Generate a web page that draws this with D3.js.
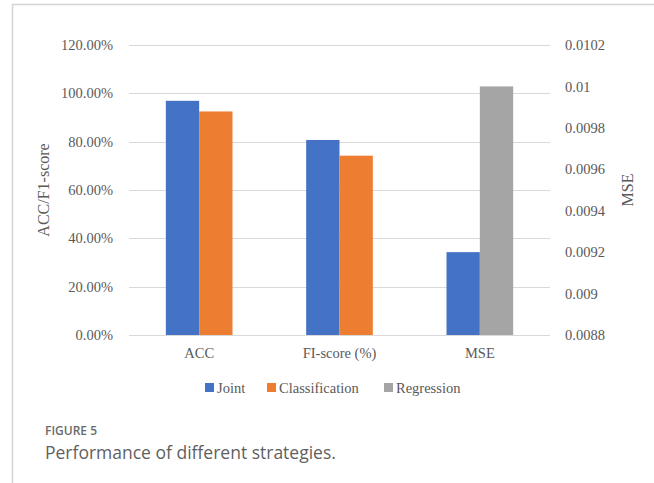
<!DOCTYPE html>
<meta charset="utf-8">
<html>
<head>
  <title>Performance of different strategies</title>
  <style>
    body { margin: 0; background: #fff; }
    svg { display: block; }
    .tick text, .lbl { font-family: 'Liberation Serif', 'Times New Roman', serif; fill: #595959; }
    .cap { font-family: 'Open Sans', sans-serif; }
  </style>
  <script src="https://d3js.org/d3.v7.min.js"></script>
</head>
<body>
  <svg width="654" height="483"></svg>
  <script>
    // chart values (left axis for ACC/F1, right axis for MSE)
    var categories = ["ACC", "FI-score (%)", "MSE"];
    var seriesNames = ["Joint", "Classification", "Regression"];
    var joint = [0.969, 0.807, 0.0092];
    var classification = [0.925, 0.742, null];
    var regression = [null, null, 0.0100];
    var leftTicks = [0, 0.2, 0.4, 0.6, 0.8, 1.0, 1.2];
    var rightTicks = [0.0088, 0.009, 0.0092, 0.0094, 0.0096, 0.0098, 0.01, 0.0102];
    var colors = {"Joint": "#4472c4", "Classification": "#ed7d31", "Regression": "#a5a5a5"};

    var svg = d3.select("svg");

    // frame around the figure
    svg.append("path")
      .attr("d", "M654,4.5H12.5V483")
      .attr("fill", "none")
      .attr("stroke", "#d4d4d4")
      .attr("stroke-width", 1.5);

    var margin = {top: 45, left: 129, right: 104, bottom: 148};
    var width = 654 - margin.left - margin.right;
    var height = 483 - margin.top - margin.bottom;

    var g = svg.append("g")
      .attr("transform", "translate(" + margin.left + "," + margin.top + ")");

    var x0 = d3.scaleBand().domain(categories).range([0, width])
      .paddingInner(0.525).paddingOuter(0.2625);
    var x1 = d3.scaleBand().domain(["a", "b"]).range([0, x0.bandwidth()]);
    var yL = d3.scaleLinear().domain([0, 1.2]).range([height, 0]);
    var yR = d3.scaleLinear().domain([0.0088, 0.0102]).range([height, 0]);

    // gridlines
    g.append("g").selectAll("line")
      .data(leftTicks)
      .enter().append("line")
        .attr("x1", 0).attr("x2", width)
        .attr("y1", function(d) { return Math.round(yL(d)) + 0.5; })
        .attr("y2", function(d) { return Math.round(yL(d)) + 0.5; })
        .attr("stroke", "#d9d9d9")
        .attr("stroke-width", 1.2);

    // build bar records
    var bars = [];
    categories.forEach(function(c, i) {
      var isMse = c === "MSE";
      var vals = [["Joint", joint[i]], ["Classification", classification[i]], ["Regression", regression[i]]]
        .filter(function(v) { return v[1] != null; });
      vals.forEach(function(v, j) {
        bars.push({cat: c, slot: j === 0 ? "a" : "b", name: v[0], value: v[1], y: isMse ? yR : yL});
      });
    });

    g.append("g").selectAll("rect")
      .data(bars)
      .enter().append("rect")
        .attr("x", function(d) { return x0(d.cat) + x1(d.slot); })
        .attr("width", x1.bandwidth())
        .attr("y", function(d) { return d.y(d.value); })
        .attr("height", function(d) { return height - d.y(d.value); })
        .attr("fill", function(d) { return colors[d.name]; });

    // left axis
    var axL = g.append("g")
      .call(d3.axisLeft(yL).tickValues(leftTicks).tickSize(0).tickPadding(16)
        .tickFormat(function(d) { return (d * 100).toFixed(2) + "%"; }));
    axL.select(".domain").remove();

    // right axis
    var axR = g.append("g")
      .attr("transform", "translate(" + width + ",0)")
      .call(d3.axisRight(yR).tickValues(rightTicks).tickSize(0).tickPadding(15)
        .tickFormat(function(d) { return String(+d.toFixed(4)); }));
    axR.select(".domain").remove();

    // category axis
    var axB = g.append("g")
      .attr("transform", "translate(0," + height + ")")
      .call(d3.axisBottom(x0).tickSize(0).tickPadding(13));
    axB.select(".domain").remove();

    svg.selectAll(".tick text")
      .attr("font-size", 14.5)
      .attr("font-family", null);

    // axis titles
    svg.append("text").attr("class", "lbl")
      .attr("transform", "translate(49,190) rotate(-90)")
      .attr("text-anchor", "middle")
      .attr("font-size", 16)
      .text("ACC/F1-score");

    svg.append("text").attr("class", "lbl")
      .attr("transform", "translate(633,190) rotate(-90)")
      .attr("text-anchor", "middle")
      .attr("font-size", 16)
      .text("MSE");

    // legend
    var legendX = [205, 267, 384];
    var leg = svg.append("g").selectAll("g")
      .data(seriesNames)
      .enter().append("g")
        .attr("transform", function(d, i) { return "translate(" + legendX[i] + ",383)"; });
    leg.append("rect")
      .attr("width", 9).attr("height", 9)
      .attr("fill", function(d) { return colors[d]; });
    leg.append("text").attr("class", "lbl")
      .attr("x", 12).attr("y", 9.5)
      .attr("font-size", 14.5)
      .text(function(d) { return d; });

    // caption
    svg.append("text").attr("class", "cap")
      .attr("x", 45).attr("y", 435)
      .attr("font-size", 12).attr("font-weight", 600)
      .attr("fill", "#6a6a6a")
      .text("FIGURE 5");
    svg.append("text").attr("class", "cap")
      .attr("x", 45).attr("y", 459)
      .attr("font-size", 17.5)
      .attr("fill", "#5f5f5f")
      .text("Performance of different strategies.");
  </script>
</body>
</html>
